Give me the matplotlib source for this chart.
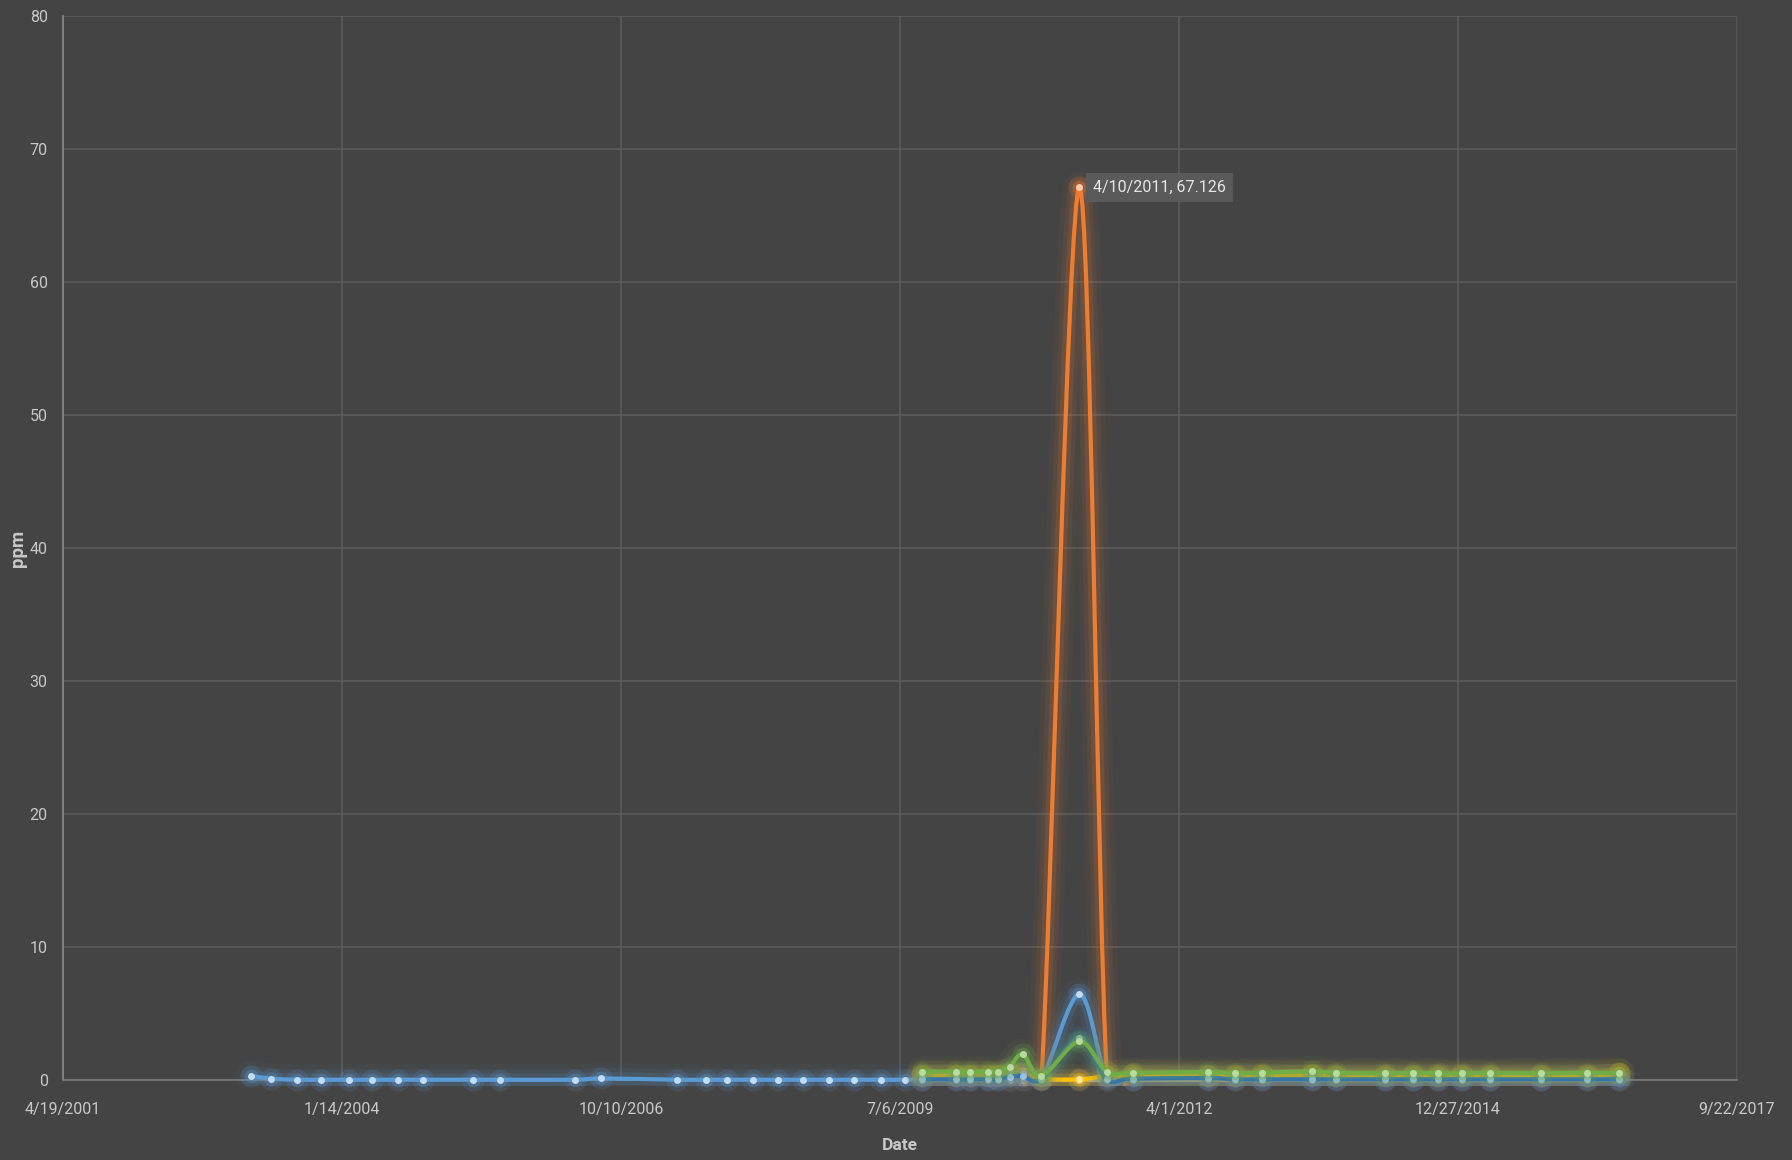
#!/usr/bin/env python3
"""
Dark Excel-style line chart of ppm readings over time, smoothed lines with glow.
"""

import matplotlib

matplotlib.use("Agg")
import matplotlib.dates as mdates
import matplotlib.patheffects as pe
import matplotlib.pyplot as plt
import pandas as pd
from matplotlib import font_manager
from matplotlib.patches import PathPatch, Rectangle
from matplotlib.path import Path

# ---- data ----
EARLY_DATES = [
    "2003-02-23", "2003-05-04", "2003-08-07", "2003-11-01", "2004-02-07",
    "2004-04-30", "2004-08-01", "2004-10-29", "2005-04-29", "2005-08-01",
    "2006-04-28", "2006-07-31", "2007-04-28", "2007-08-11", "2007-10-25",
    "2008-01-27", "2008-04-26", "2008-07-24", "2008-10-24", "2009-01-21",
    "2009-04-30", "2009-07-25",
]
EARLY_BLUE = [
    0.3, 0.1, 0.02, 0.02, 0.02, 0.02, 0.02, 0.02, 0.02, 0.02,
    0.02, 0.12, 0.02, 0.02, 0.02, 0.02, 0.02, 0.02, 0.02, 0.02,
    0.02, 0.02,
]

LATE_DATES = [
    "2009-09-22", "2010-01-24", "2010-03-14", "2010-05-17", "2010-06-23",
    "2010-08-03", "2010-09-19", "2010-11-25", "2011-04-10", "2011-07-17",
    "2011-10-18", "2012-07-14", "2012-10-17", "2013-01-23", "2013-07-21",
    "2013-10-16", "2014-04-10", "2014-07-20", "2014-10-15", "2015-01-12",
    "2015-04-21", "2015-10-20", "2016-04-04", "2016-07-27",
]
LATE_LIGHT_BLUE = [
    0.05, 0.05, 0.05, 0.05, 0.1, 0.5, 0.7, 0.05, 6.44, 0.15, 0.1, 0.05,
    0.05, 0.05, 0.05, 0.05, 0.05, 0.05, 0.05, 0.05, 0.05, 0.05, 0.05, 0.05,
]
ORANGE = [
    0.3, 0.3, 0.3, 0.3, 0.3, 0.4, 0.4, 0.1, 67.126, 0.6, 0.45, 0.4,
    0.4, 0.4, 0.45, 0.4, 0.4, 0.4, 0.4, 0.4, 0.4, 0.4, 0.4, 0.45,
]
GRAY = [0.0] * 24
YELLOW = [
    0.4, 0.4, 0.4, 0.4, 0.4, 0.5, 0.5, 0.1, 0.05, 0.3, 0.35, 0.3,
    0.3, 0.35, 0.35, 0.3, 0.3, 0.3, 0.3, 0.3, 0.3, 0.3, 0.3, 0.5,
]
DARK_BLUE = [
    0.05, 0.05, 0.05, 0.05, 0.05, 0.25, 0.3, 0.05, 3.13, 0.05, 0.1, 0.15,
    0.05, 0.05, 0.05, 0.05, 0.05, 0.05, 0.05, 0.05, 0.05, 0.05, 0.05, 0.05,
]
GREEN = [
    0.63, 0.63, 0.63, 0.63, 0.63, 1.0, 1.93, 0.3, 2.9, 0.63, 0.55, 0.6,
    0.5, 0.55, 0.65, 0.55, 0.5, 0.55, 0.5, 0.5, 0.55, 0.5, 0.55, 0.5,
]

X_TICK_DATES = [
    "2001-04-19", "2004-01-14", "2006-10-10", "2009-07-06",
    "2012-04-01", "2014-12-27", "2017-09-22",
]
X_TICK_LABELS = [
    "4/19/2001", "1/14/2004", "10/10/2006", "7/6/2009",
    "4/1/2012", "12/27/2014", "9/22/2017",
]
Y_TICKS = [0, 10, 20, 30, 40, 50, 60, 70, 80]

PEAK_LABEL = "4/10/2011, 67.126"

BG = "#444444"
GRID = "#5c5c5c"
TEXT = "#c8c8c8"

_names = {f.name for f in font_manager.fontManager.ttflist}
if "Liberation Sans Narrow" in _names:
    FONT, FS = "Liberation Sans Narrow", 14
else:
    FONT, FS = "Roboto", 11.5
plt.rcParams["font.family"] = [FONT, "DejaVu Sans"]


def smooth_path(xs, ys):
    """Excel-like smoothed line: Catmull-Rom as cubic Bezier segments."""
    pts = list(zip(xs, ys))
    n = len(pts)
    verts = [pts[0]]
    codes = [Path.MOVETO]
    for i in range(n - 1):
        p0 = pts[i - 1] if i > 0 else pts[i]
        p1 = pts[i]
        p2 = pts[i + 1]
        p3 = pts[i + 2] if i + 2 < n else pts[i + 1]
        c1 = (p1[0] + (p2[0] - p0[0]) / 6, p1[1] + (p2[1] - p0[1]) / 6)
        c2 = (p2[0] - (p3[0] - p1[0]) / 6, p2[1] - (p3[1] - p1[1]) / 6)
        verts += [c1, c2, p2]
        codes += [Path.CURVE4] * 3
    return Path(verts, codes)


def draw_series(ax, dates, vals, color, marker_color, z):
    xs = mdates.date2num(pd.to_datetime(dates))
    patch = PathPatch(
        smooth_path(xs, vals),
        facecolor="none",
        edgecolor=color,
        linewidth=3.0,
        zorder=z,
        capstyle="round",
        joinstyle="round",
    )
    patch.set_path_effects([
        pe.Stroke(linewidth=22, foreground=color, alpha=0.05),
        pe.Stroke(linewidth=15, foreground=color, alpha=0.08),
        pe.Stroke(linewidth=9, foreground=color, alpha=0.14),
        pe.Normal(),
    ])
    ax.add_patch(patch)
    # plot area clip, a few pixels of slack below the zero line like Excel
    clip = Rectangle((0, -0.006), 1, 1.012, transform=ax.transAxes)
    patch.set_clip_path(clip)
    ax.plot(xs, vals, "o", ms=16, color=color, alpha=0.15, mec="none",
            zorder=z + 0.1, clip_on=False)
    ax.plot(xs, vals, "o", ms=10, color=color, alpha=0.25, mec="none",
            zorder=z + 0.1, clip_on=False)
    ax.plot(xs, vals, "o", ms=5, color=marker_color, mec="none",
            zorder=z + 0.2, clip_on=False)


fig = plt.figure(figsize=(17.92, 11.6), dpi=100, facecolor=BG)
ax = fig.add_axes([63 / 1792, 80 / 1160, 1674 / 1792, 1064 / 1160])
ax.set_facecolor(BG)

light_blue_dates = EARLY_DATES + LATE_DATES
light_blue_vals = EARLY_BLUE + LATE_LIGHT_BLUE

draw_series(ax, light_blue_dates, light_blue_vals, "#5B9BD5", "#c4dbf3", 3)
draw_series(ax, LATE_DATES, ORANGE, "#ED7D31", "#f8cbad", 4)
draw_series(ax, LATE_DATES, GRAY, "#A5A5A5", "#d0d0d0", 5)
draw_series(ax, LATE_DATES, YELLOW, "#FFC000", "#ffe699", 6)
draw_series(ax, LATE_DATES, DARK_BLUE, "#2F6DB5", "#9fc3ec", 7)
draw_series(ax, LATE_DATES, GREEN, "#70AD47", "#b9dba2", 8)

x_ticks = mdates.date2num(pd.to_datetime(X_TICK_DATES))
ax.set_xlim(x_ticks[0], x_ticks[-1])
ax.set_ylim(0, 80)
ax.set_xticks(x_ticks)
ax.set_xticklabels(X_TICK_LABELS)
ax.set_yticks(Y_TICKS)
ax.set_yticklabels([str(v) for v in Y_TICKS])
ax.grid(True, color=GRID, linewidth=1.2, zorder=0)
ax.set_axisbelow(True)
ax.tick_params(axis="both", length=0, colors=TEXT, labelsize=FS)
ax.tick_params(axis="x", pad=16)
ax.tick_params(axis="y", pad=11)

for side in ("top", "right"):
    ax.spines[side].set_visible(False)
ax.spines["left"].set_color("#8a8a8a")
ax.spines["bottom"].set_color("#7a7a7a")
ax.spines["left"].set_linewidth(1.2)
ax.spines["bottom"].set_linewidth(1.2)

peak_x = mdates.date2num(pd.Timestamp("2011-04-10"))
ax.annotate(
    PEAK_LABEL,
    xy=(peak_x, max(ORANGE)),
    xytext=(14, 0),
    textcoords="offset pixels",
    ha="left",
    va="center",
    color="#e6e6e6",
    fontsize=FS,
    bbox=dict(boxstyle="square,pad=0.45", fc="#5a5a5a", ec="none"),
    zorder=20,
)

fig.text(17.5 / 1792, 1 - 548 / 1160, "ppm", rotation=90, ha="center", va="center",
         color=TEXT, fontsize=FS + 2, fontweight="bold")
fig.text(899.5 / 1792, 1 - 1145 / 1160, "Date", ha="center", va="center",
         color=TEXT, fontsize=FS + 1, fontweight="bold")

fig.savefig("out.png", facecolor=BG)
